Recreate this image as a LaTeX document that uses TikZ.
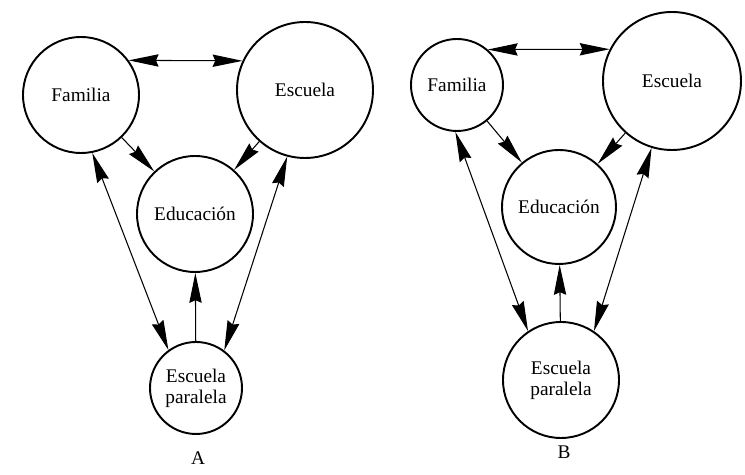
\documentclass[tikz,border=0pt]{standalone}
\usepackage{fontspec}
\setmainfont{Liberation Serif}
\usetikzlibrary{arrows.meta}

\begin{document}
\begin{tikzpicture}[x = 0.02cm, y = -0.02cm,
  circ/.style = {draw, circle, line width = 1.1pt, inner sep = 0pt, align = center,
    font = \fontsize{11}{12}\selectfont},
  arr/.style = {line width = 0.6pt, -{Stealth[length = 17pt, width = 7pt, inset = 1.5pt]}},
  darr/.style = {line width = 0.6pt, {Stealth[length = 17pt, width = 7pt, inset = 1.5pt]}-{Stealth[length = 17pt, width = 7pt, inset = 1.5pt]}}]
\useasboundingbox (0, 0) rectangle (745, 475);
\node[circ, minimum size = 116*0.02cm] (famA) at (81, 95) {Familia};
\node[circ, minimum size = 136*0.02cm] (escA) at (305, 90) {Escuela};
\node[circ, minimum size = 116*0.02cm] (eduA) at (195, 214) {Educación};
\node[circ, minimum size = 92*0.02cm] (parA) at (196, 388) {Escuela\\paralela};
\node[font = \fontsize{11}{12}\selectfont] (labA) at (198, 458) {A};
\draw[darr] (famA.36) -- (escA.155);
\draw[arr] (famA) -- (eduA);
\draw[arr] (escA) -- (eduA);
\draw[arr] (parA) -- (eduA);
\draw[darr] (famA.-79) -- (parA.126);
\draw[darr] (escA.-105) -- (parA.53);

\node[circ, minimum size = 92*0.02cm] (famB) at (457, 85) {Familia};
\node[circ, minimum size = 138*0.02cm] (escB) at (672, 81) {Escuela};
\node[circ, minimum size = 114*0.02cm] (eduB) at (559, 207) {Educación};
\node[circ, minimum size = 116*0.02cm] (parB) at (561, 380) {Escuela\\paralela};
\node[font = \fontsize{11}{12}\selectfont] (labB) at (564, 452) {B};
\draw[darr] (famB.49) -- (escB.153);
\draw[arr] (famB) -- (eduB);
\draw[arr] (escB) -- (eduB);
\draw[arr] (parB) -- (eduB);
\draw[darr] (famB.-92) -- (parB.124);
\draw[darr] (escB.-107) -- (parB.56);
\end{tikzpicture}
\end{document}
